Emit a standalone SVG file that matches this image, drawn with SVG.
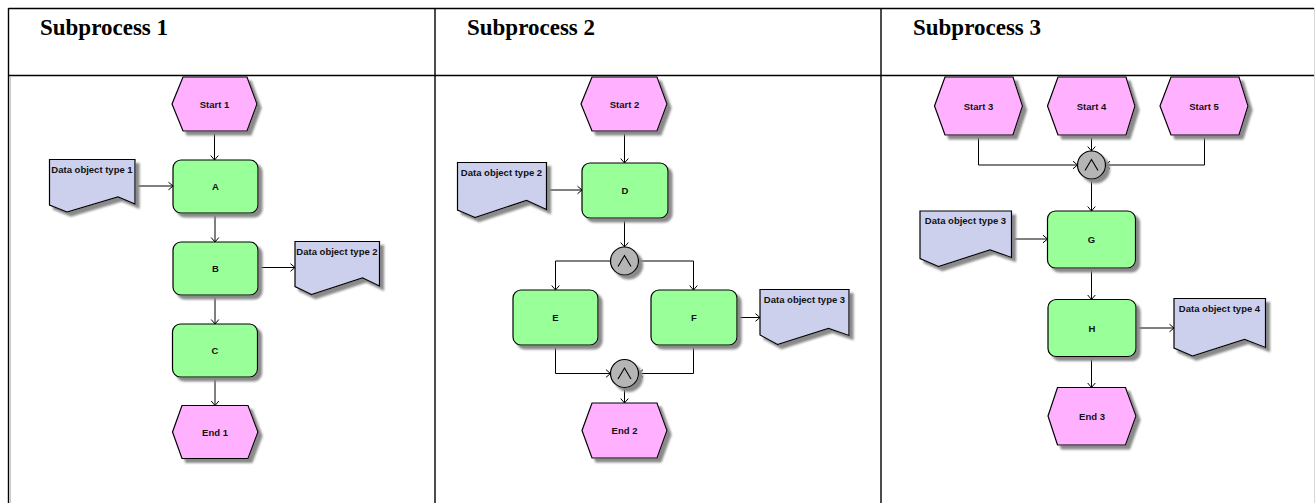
<svg xmlns="http://www.w3.org/2000/svg" width="1315" height="503" viewBox="0 0 1315 503">
  <defs>
    <filter id="shadow" x="-20%" y="-20%" width="140%" height="140%">
      <feDropShadow dx="4" dy="4" stdDeviation="0.8" flood-color="#8a8a8a" flood-opacity="1"/>
    </filter>
    <marker id="arrow" viewBox="-6 -5 8 10" markerWidth="8" markerHeight="10" refX="0" refY="0" orient="auto" markerUnits="userSpaceOnUse">
      <path d="M -4.5 -3.8 L 0 0 L -4.5 3.8" fill="none" stroke="#000" stroke-width="1"/>
    </marker>
  </defs>
  <style>
    .title { font-family: "Liberation Serif", "Times New Roman", serif; font-weight: bold; font-size: 23px; fill: #000; }
    .label { font-family: "Liberation Sans", Arial, sans-serif; font-weight: bold; font-size: 9.5px; fill: #111; text-anchor: middle; }
    .event { fill: #FFB0FF; stroke: #000; stroke-width: 1.2; filter: url(#shadow); }
    .func { fill: #99FF99; stroke: #000; stroke-width: 1.2; filter: url(#shadow); }
    .data { fill: #CCD0EC; stroke: #000; stroke-width: 1.2; filter: url(#shadow); }
    .gate { fill: #B5B5B5; stroke: #000; stroke-width: 1.2; filter: url(#shadow); }
    .glyph { fill: none; stroke: #000; stroke-width: 1.1; }
    .conn { fill: none; stroke: #000; stroke-width: 1; }
    .grid { stroke: #000; stroke-width: 1.4; fill: none; }
  </style>

  <rect width="1315" height="503" fill="#fff"/>

  <!-- table frame -->
  <g id="table">
    <line class="grid" x1="8.5" y1="8.5" x2="1314" y2="8.5"/>
    <line class="grid" x1="8.5" y1="75.5" x2="1314" y2="75.5"/>
    <line class="grid" x1="8.5" y1="8" x2="8.5" y2="503"/>
    <line x1="10.5" y1="77" x2="10.5" y2="503" stroke="#c8c8c8" stroke-width="1"/>
    <line class="grid" x1="435" y1="8" x2="435" y2="503"/>
    <line class="grid" x1="881" y1="8" x2="881" y2="503"/>
    <line x1="1314.5" y1="8" x2="1314.5" y2="503" stroke="#d8d8d8" stroke-width="1"/>
    <text class="title" x="40" y="35">Subprocess 1</text>
    <text class="title" x="467" y="35">Subprocess 2</text>
    <text class="title" x="913" y="35">Subprocess 3</text>
  </g>

  <!-- connectors -->
  <g id="connectors">
    <!-- subprocess 1 -->
    <line class="conn" x1="214.5" y1="131" x2="214.5" y2="160" marker-end="url(#arrow)"/>
    <line class="conn" x1="135" y1="186" x2="173" y2="186" marker-end="url(#arrow)"/>
    <line class="conn" x1="215" y1="213" x2="215" y2="242" marker-end="url(#arrow)"/>
    <line class="conn" x1="258" y1="267.5" x2="295" y2="267.5" marker-end="url(#arrow)"/>
    <line class="conn" x1="215" y1="295" x2="215" y2="324" marker-end="url(#arrow)"/>
    <line class="conn" x1="215" y1="377" x2="215" y2="405.5" marker-end="url(#arrow)"/>
    <!-- subprocess 2 -->
    <line class="conn" x1="624.5" y1="131" x2="624.5" y2="163" marker-end="url(#arrow)"/>
    <line class="conn" x1="543" y1="190" x2="582" y2="190" marker-end="url(#arrow)"/>
    <line class="conn" x1="624.5" y1="218" x2="624.5" y2="247" marker-end="url(#arrow)"/>
    <polyline class="conn" points="610.5,261 555.5,261 555.5,290" marker-end="url(#arrow)"/>
    <polyline class="conn" points="638.5,261 693.5,261 693.5,290" marker-end="url(#arrow)"/>
    <line class="conn" x1="737" y1="317.5" x2="760" y2="317.5" marker-end="url(#arrow)"/>
    <polyline class="conn" points="555.5,345 555.5,373.5 610.5,373.5" marker-end="url(#arrow)"/>
    <polyline class="conn" points="693.5,345 693.5,373.5 638.5,373.5" marker-end="url(#arrow)"/>
    <line class="conn" x1="624.5" y1="387.5" x2="624.5" y2="403" marker-end="url(#arrow)"/>
    <!-- subprocess 3 -->
    <polyline class="conn" points="978.5,135 978.5,165 1077.5,165" marker-end="url(#arrow)"/>
    <line class="conn" x1="1091.5" y1="135" x2="1091.5" y2="151" marker-end="url(#arrow)"/>
    <polyline class="conn" points="1204.5,135 1204.5,165 1105.5,165" marker-end="url(#arrow)"/>
    <line class="conn" x1="1091.5" y1="179" x2="1091.5" y2="211" marker-end="url(#arrow)"/>
    <line class="conn" x1="1008" y1="239" x2="1047.5" y2="239" marker-end="url(#arrow)"/>
    <line class="conn" x1="1091.5" y1="268" x2="1091.5" y2="299.5" marker-end="url(#arrow)"/>
    <line class="conn" x1="1136" y1="328" x2="1174" y2="328" marker-end="url(#arrow)"/>
    <line class="conn" x1="1091.5" y1="356.5" x2="1091.5" y2="387.5" marker-end="url(#arrow)"/>
  </g>

  <!-- subprocess 1 nodes -->
  <g id="start1">
    <polygon class="event" points="172,104 183,77 247,77 257,104 247,131 183,131"/>
    <text class="label" x="214.5" y="107.5">Start 1</text>
  </g>
  <g id="data1">
    <polygon class="data" points="49.5,159.5 135,159.5 135,204 118,197 67,212 49.5,205"/>
    <text class="label" x="92" y="172.5">Data object type 1</text>
  </g>
  <g id="fnA">
    <rect class="func" x="173" y="160" width="85" height="53" rx="8"/>
    <text class="label" x="215.5" y="190">A</text>
  </g>
  <g id="fnB">
    <rect class="func" x="173" y="242" width="85" height="53" rx="8"/>
    <text class="label" x="215.5" y="271.5">B</text>
  </g>
  <g id="data2">
    <polygon class="data" points="295,241.5 379.5,241.5 379.5,286 362.5,278 311.5,294.5 295,286.5"/>
    <text class="label" x="337" y="254.5">Data object type 2</text>
  </g>
  <g id="fnC">
    <rect class="func" x="172.5" y="324" width="85" height="53" rx="8"/>
    <text class="label" x="215" y="354">C</text>
  </g>
  <g id="end1">
    <polygon class="event" points="172.5,432 182,405.5 248,405.5 258,432 248,458.5 182,458.5"/>
    <text class="label" x="215" y="435.5">End 1</text>
  </g>

  <!-- subprocess 2 nodes -->
  <g id="start2">
    <polygon class="event" points="581,104 592,77 657,77 667,104 657,131 592,131"/>
    <text class="label" x="624.5" y="107.5">Start 2</text>
  </g>
  <g id="data2b">
    <polygon class="data" points="457.5,162.5 546.5,162.5 546.5,209.5 526.5,200.5 475,217.5 457.5,210"/>
    <text class="label" x="501.5" y="175.5">Data object type 2</text>
  </g>
  <g id="fnD">
    <rect class="func" x="582" y="163" width="86" height="55" rx="8"/>
    <text class="label" x="625" y="194">D</text>
  </g>
  <g id="and1">
    <circle class="gate" cx="624.5" cy="261" r="14"/>
    <polyline class="glyph" points="618,266.5 624.5,255.5 631,266.5"/>
  </g>
  <g id="fnE">
    <rect class="func" x="513" y="290" width="85" height="55" rx="8"/>
    <text class="label" x="555.5" y="321">E</text>
  </g>
  <g id="fnF">
    <rect class="func" x="651" y="290" width="86" height="55" rx="8"/>
    <text class="label" x="694" y="321">F</text>
  </g>
  <g id="data3">
    <polygon class="data" points="760,289.5 849,289.5 849,335.5 828.5,328.5 777.5,344.5 760,335"/>
    <text class="label" x="804.5" y="302.5">Data object type 3</text>
  </g>
  <g id="and2">
    <circle class="gate" cx="624.5" cy="373.5" r="14"/>
    <polyline class="glyph" points="618,379 624.5,368 631,379"/>
  </g>
  <g id="end2">
    <polygon class="event" points="582,430.5 592,403 657,403 667,430.5 657,458 592,458"/>
    <text class="label" x="624.5" y="434">End 2</text>
  </g>

  <!-- subprocess 3 nodes -->
  <g id="start3">
    <polygon class="event" points="934.5,106 945,77 1013,77 1022.5,106 1013,135 945,135"/>
    <text class="label" x="978.5" y="109.5">Start 3</text>
  </g>
  <g id="start4">
    <polygon class="event" points="1047.5,106 1058,77 1126,77 1135,106 1126,135 1058,135"/>
    <text class="label" x="1091.5" y="109.5">Start 4</text>
  </g>
  <g id="start5">
    <polygon class="event" points="1160,106 1171,77 1239,77 1248,106 1239,135 1171,135"/>
    <text class="label" x="1204" y="109.5">Start 5</text>
  </g>
  <g id="and3">
    <circle class="gate" cx="1091.5" cy="165" r="14"/>
    <polyline class="glyph" points="1085,170.5 1091.5,159.5 1098,170.5"/>
  </g>
  <g id="data3b">
    <polygon class="data" points="920,211 1011.5,211 1011.5,257.5 990,250 938.5,266.5 920,258.5"/>
    <text class="label" x="965.5" y="224">Data object type 3</text>
  </g>
  <g id="fnG">
    <rect class="func" x="1047.5" y="211" width="88" height="57" rx="8"/>
    <text class="label" x="1091.5" y="243">G</text>
  </g>
  <g id="fnH">
    <rect class="func" x="1048" y="299.5" width="88" height="57" rx="8"/>
    <text class="label" x="1092" y="331.5">H</text>
  </g>
  <g id="data4">
    <polygon class="data" points="1174,298.5 1265.5,298.5 1265.5,347.5 1244.5,339.5 1192.5,356 1174,348"/>
    <text class="label" x="1219.5" y="312">Data object type 4</text>
  </g>
  <g id="end3">
    <polygon class="event" points="1048,416 1057.5,387.5 1125.5,387.5 1136,416 1125.5,445 1057.5,445"/>
    <text class="label" x="1092" y="419.5">End 3</text>
  </g>
</svg>
